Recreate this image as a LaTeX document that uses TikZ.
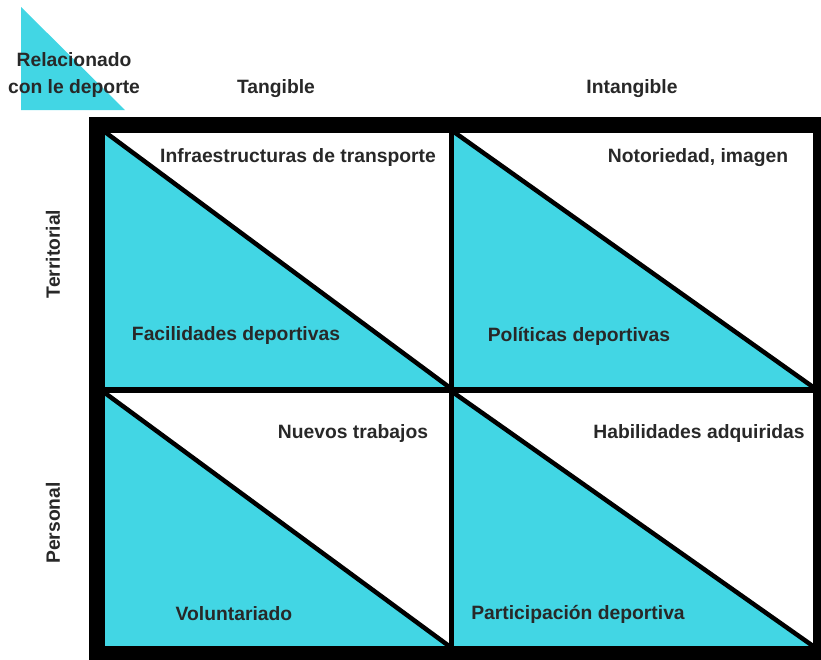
\documentclass[tikz,border=0pt]{standalone}
\usepackage{fontspec}
\setmainfont{Liberation Sans}
\definecolor{cyanfill}{RGB}{66,214,228}
\definecolor{labelgray}{RGB}{40,40,40}

\begin{document}
\begin{tikzpicture}
    [x=1pt,y=-1pt,
     every node/.style={text=labelgray,font=\fontsize{19.3}{27}\selectfont\bfseries,inner sep=0pt},
     half/.style={fill=cyanfill},
     cut/.style={line width=4.5pt,line cap=round}]
    \useasboundingbox (0,0) rectangle (821,659);
    \clip (0,0) rectangle (821,659);
    % corner triangle
    \fill[cyanfill] (21,7) -- (21,110) -- (125,110) -- cycle;
    % cells, lower left half coloured
    \fill[half] (105,132) -- (105,387) -- (449,387) -- cycle;
    \fill[half] (454,132) -- (454,387) -- (813,387) -- cycle;
    \fill[half] (105,393) -- (105,646) -- (449,646) -- cycle;
    \fill[half] (454,393) -- (454,646) -- (813,646) -- cycle;
    \draw[cut] (105,132) -- (449,387);
    \draw[cut] (454,132) -- (813,387);
    \draw[cut] (105,393) -- (449,646);
    \draw[cut] (454,393) -- (813,646);
    % frame and cross
    \draw[line width=5pt] (451.5,124) -- (451.5,654);
    \draw[line width=6pt] (96,390) -- (821,390);
    \draw[line width=16pt] (96.5,124.5) rectangle (821,654);
    % headings
    \node (rel) at (74,75) [align=center] {Relacionado\\con le deporte};
    \node (tang) at (276,89) {Tangible};
    \node (intang) at (632,89) {Intangible};
    \node[rotate=90] (terr) at (53,254) {Territorial};
    \node[rotate=90] (pers) at (53,523) {Personal};
    % cell texts
    \node (infra) at (298,158) {Infraestructuras de transporte};
    \node (noto) at (698,158) {Notoriedad, imagen};
    \node (facil) at (236,336) {Facilidades deportivas};
    \node (polit) at (579,336) {Políticas deportivas};
    \node (nuevos) at (353,434) {Nuevos trabajos};
    \node (habil) at (699,434) {Habilidades adquiridas};
    \node (volun) at (234,614) {Voluntariado};
    \node (partic) at (578,614) {Participación deportiva};
  \end{tikzpicture}
\end{document}
